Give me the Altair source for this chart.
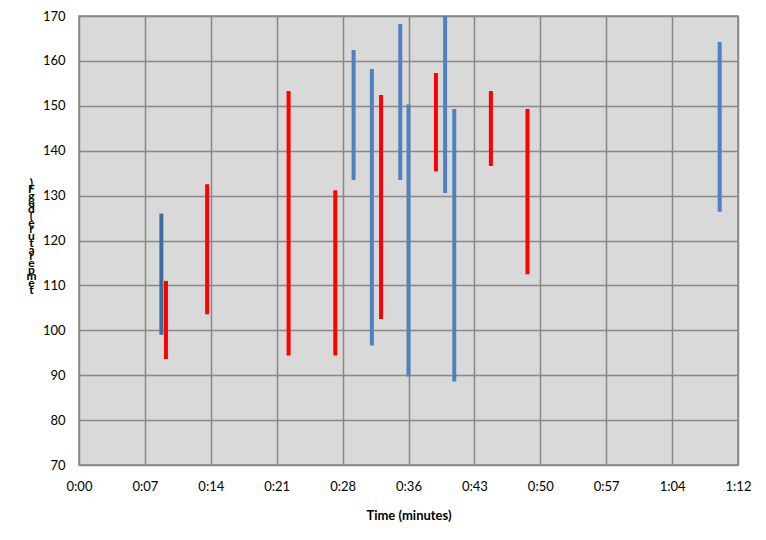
import altair as alt
import pandas as pd

# --- data ---
dark_times = [9.0]
dark_low = [99.0]
dark_high = [126.0]

red_times = [9.5, 14.0, 22.9, 28.0, 33.0, 39.0, 45.0, 49.0]
red_high = [111.0, 132.5, 153.3, 131.2, 152.4, 157.3, 153.3, 149.3]
red_low = [93.6, 103.6, 94.4, 94.4, 102.5, 135.4, 136.6, 112.5]

blue_times = [30.0, 32.0, 35.1, 36.0, 40.0, 41.0, 70.0]
blue_high = [162.4, 158.2, 168.2, 150.3, 170.0, 149.3, 164.2]
blue_low = [133.5, 96.6, 133.5, 89.7, 130.6, 88.6, 126.4]

x_tick_values = [0, 7.2, 14.4, 21.6, 28.8, 36, 43.2, 50.4, 57.6, 64.8, 72]
x_tick_labels = ["0:00", "0:07", "0:14", "0:21", "0:28", "0:36", "0:43",
                 "0:50", "0:57", "1:04", "1:12"]
y_tick_values = [70, 80, 90, 100, 110, 120, 130, 140, 150, 160, 170]

series_names = ["A", "B", "C"]
series_colors = ["#3C6CA2", "#FF0000", "#4F81BD"]

rows = []
for t, lo, hi in zip(dark_times, dark_low, dark_high):
    rows.append({"t": t, "low": lo, "high": hi, "s": "A"})
for t, lo, hi in zip(red_times, red_low, red_high):
    rows.append({"t": t, "low": lo, "high": hi, "s": "B"})
for t, lo, hi in zip(blue_times, blue_low, blue_high):
    rows.append({"t": t, "low": lo, "high": hi, "s": "C"})
df = pd.DataFrame(rows)

label_expr = "[" + ",".join("'" + s + "'" for s in x_tick_labels) + "][round(datum.value/7.2)]"

y_title_lines = list(reversed("temperature (deg F)"))

FONT = "Lato"

chart = alt.Chart(df).mark_rule(strokeWidth=4, strokeCap="butt").encode(
    x=alt.X("t:Q",
            scale=alt.Scale(domain=[0, 72], nice=False, zero=False),
            axis=alt.Axis(values=x_tick_values, labelExpr=label_expr,
                          title="Time (minutes)", titleFontWeight="bold",
                          titleFontSize=13, titleBaseline="middle",
                          titleY=50, titleX=329.5, titleAlign="center",
                          labelPadding=15, labelBaseline="top",
                          labelFlush=False, labelOverlap=False)),
    y=alt.Y("low:Q",
            scale=alt.Scale(domain=[70, 170], nice=False, zero=False),
            axis=alt.Axis(values=y_tick_values, title=y_title_lines,
                          titleAngle=0, titleAlign="center",
                          titleBaseline="top", titleX=-48, titleY=161,
                          titleFontSize=12, titleFontWeight="bold",
                          titleLineHeight=6.7, labelPadding=14)),
    y2="high:Q",
    color=alt.Color("s:N",
                    scale=alt.Scale(domain=series_names, range=series_colors),
                    legend=None),
).properties(
    width=659, height=449,
    background="#FFFFFF",
    autosize=alt.AutoSizeParams(type="none"),
    padding={"left": 71, "top": 8, "right": 20, "bottom": 60},
).configure_view(
    fill="#D9D9D9", stroke="#888888", strokeWidth=1.5
).configure_axis(
    domain=False, ticks=False, grid=True, gridColor="#888888",
    gridWidth=1.5, gridOpacity=1,
    labelFont=FONT, labelFontSize=13, labelColor="#000000",
    titleFont=FONT, titleColor="#000000",
)

chart.save("out.html", embed_options={"renderer": "svg", "actions": False})
